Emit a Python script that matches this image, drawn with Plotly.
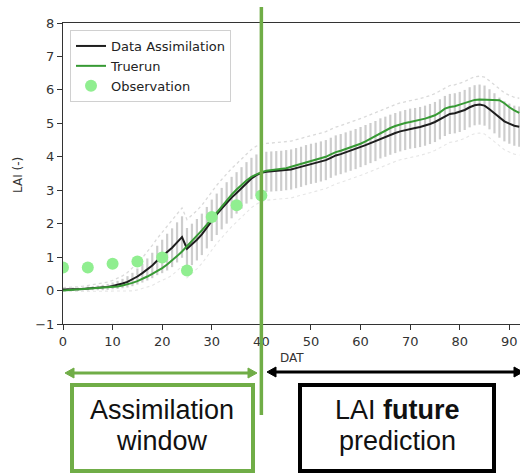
import plotly.graph_objects as go

# ---------------- data ----------------
days = list(range(93))

data_assimilation = [
    0.03, 0.03, 0.04, 0.04, 0.05, 0.06, 0.07, 0.08, 0.09, 0.11,   # 0-9
    0.14, 0.17, 0.21, 0.26, 0.33, 0.42, 0.52, 0.63, 0.75, 0.90,   # 10-19
    1.02, 1.15, 1.28, 1.44, 1.60, 1.25, 1.38, 1.52, 1.68, 1.88,   # 20-29
    2.10, 2.28, 2.45, 2.62, 2.78, 2.92, 3.07, 3.22, 3.35, 3.45,   # 30-39
    3.52, 3.55, 3.56, 3.57, 3.58, 3.60, 3.62, 3.66, 3.70, 3.75,   # 40-49
    3.79, 3.82, 3.86, 3.90, 3.97, 4.04, 4.08, 4.13, 4.18, 4.23,   # 50-59
    4.29, 4.35, 4.41, 4.47, 4.55, 4.60, 4.66, 4.71, 4.76, 4.80,   # 60-69
    4.84, 4.86, 4.89, 4.93, 4.98, 5.04, 5.12, 5.22, 5.28, 5.30,   # 70-79
    5.34, 5.40, 5.48, 5.54, 5.56, 5.53, 5.42, 5.30, 5.17, 5.06,   # 80-89
    4.99, 4.93, 4.90,                                             # 90-92
]

truerun = [
    0.00, 0.01, 0.02, 0.03, 0.03, 0.04, 0.05, 0.06, 0.07, 0.08,
    0.10, 0.12, 0.15, 0.18, 0.23, 0.28, 0.34, 0.42, 0.50, 0.58,
    0.67, 0.78, 0.90, 1.03, 1.17, 1.32, 1.48, 1.64, 1.80, 1.97,
    2.15, 2.33, 2.52, 2.70, 2.87, 3.02, 3.16, 3.29, 3.40, 3.48,
    3.54, 3.58, 3.60, 3.61, 3.63, 3.66, 3.70, 3.74, 3.79, 3.84,
    3.88, 3.91, 3.95, 4.00, 4.07, 4.14, 4.18, 4.23, 4.28, 4.33,
    4.39, 4.46, 4.54, 4.62, 4.72, 4.79, 4.86, 4.92, 4.97, 5.01,
    5.04, 5.07, 5.10, 5.14, 5.19, 5.24, 5.33, 5.44, 5.49, 5.51,
    5.56, 5.60, 5.66, 5.70, 5.71, 5.71, 5.71, 5.71, 5.69, 5.60,
    5.48, 5.39, 5.31,
]

# half-width of the ensemble spread (grey bars) around the assimilation run
ensemble_spread = [
    0.04, 0.04, 0.05, 0.05, 0.05, 0.06, 0.06, 0.07, 0.08, 0.09,
    0.10, 0.12, 0.14, 0.17, 0.20, 0.24, 0.28, 0.33, 0.38, 0.44,
    0.50, 0.55, 0.58, 0.60, 0.62, 0.62, 0.62, 0.62, 0.62, 0.62,
    0.62, 0.62, 0.62, 0.62, 0.62, 0.62, 0.62, 0.62, 0.62, 0.62,
    0.60, 0.60, 0.60, 0.60, 0.60, 0.60, 0.60, 0.60, 0.60, 0.60,
    0.60, 0.60, 0.60, 0.60, 0.60, 0.60, 0.60, 0.60, 0.60, 0.60,
    0.60, 0.60, 0.60, 0.60, 0.60, 0.60, 0.60, 0.60, 0.60, 0.60,
    0.60, 0.60, 0.60, 0.60, 0.60, 0.60, 0.60, 0.60, 0.60, 0.60,
    0.60, 0.60, 0.60, 0.60, 0.60, 0.60, 0.60, 0.60, 0.60, 0.60,
    0.60, 0.60, 0.60,
]

# outer ensemble members (dotted envelope)
ensemble_outer = [
    0.06, 0.06, 0.07, 0.07, 0.08, 0.09, 0.10, 0.11, 0.12, 0.14,
    0.16, 0.19, 0.23, 0.28, 0.34, 0.40, 0.46, 0.53, 0.60, 0.66,
    0.72, 0.78, 0.82, 0.85, 0.87, 0.87, 0.87, 0.87, 0.87, 0.87,
    0.87, 0.87, 0.87, 0.87, 0.87, 0.87, 0.87, 0.87, 0.87, 0.87,
    0.85, 0.85, 0.85, 0.85, 0.85, 0.85, 0.85, 0.85, 0.85, 0.85,
    0.85, 0.85, 0.85, 0.85, 0.85, 0.85, 0.85, 0.85, 0.85, 0.85,
    0.85, 0.85, 0.85, 0.85, 0.85, 0.85, 0.85, 0.85, 0.85, 0.85,
    0.85, 0.85, 0.85, 0.85, 0.85, 0.85, 0.85, 0.85, 0.85, 0.85,
    0.85, 0.85, 0.85, 0.85, 0.85, 0.85, 0.85, 0.85, 0.85, 0.85,
    0.85, 0.85, 0.85,
]

obs_days = [0, 5, 10, 15, 20, 25, 30, 35, 40]
obs_lai = [0.69, 0.69, 0.80, 0.87, 0.99, 0.60, 2.20, 2.55, 2.84]

x_ticks = [0, 10, 20, 30, 40, 50, 60, 70, 80, 90]
y_ticks = [-1, 0, 1, 2, 3, 4, 5, 6, 7, 8]
assim_end = 40
x_max = 92.15

# ---------------- figure ----------------
W, H = 530, 474
L, T, R, B = 63, 23, 10, 150
PW, PH = W - L - R, H - T - B


def px(x):
    return (x - L) / PW


def py(y):
    return (H - B - y) / PH


GREEN = "#70AD47"

fig = go.Figure()

# ensemble bars
bx, by = [], []
for d, m, s in zip(days, data_assimilation, ensemble_spread):
    bx += [d, d, None]
    by += [m - s, m + s, None]
fig.add_trace(go.Scatter(x=bx, y=by, mode="lines", line=dict(color="#cdcdcd", width=2.2),
                         showlegend=False, hoverinfo="skip"))

# dotted envelopes
fig.add_trace(go.Scatter(x=days, y=[m + e for m, e in zip(data_assimilation, ensemble_outer)],
                         mode="lines", line=dict(color="#dadada", width=1.3, dash="dot"),
                         showlegend=False, hoverinfo="skip"))
fig.add_trace(go.Scatter(x=days, y=[m - e for m, e in zip(data_assimilation, ensemble_outer)],
                         mode="lines", line=dict(color="#e6e6e6", width=1.1, dash="dot"),
                         showlegend=False, hoverinfo="skip"))

fig.add_trace(go.Scatter(x=days, y=data_assimilation, mode="lines", name="Data Assimilation",
                         line=dict(color="#1e1e1e", width=2)))
fig.add_trace(go.Scatter(x=days, y=truerun, mode="lines", name="Truerun",
                         line=dict(color="#379a34", width=2)))
fig.add_trace(go.Scatter(x=obs_days, y=obs_lai, mode="markers", name="Observation",
                         marker=dict(color="#90ee90", size=12)))

shapes = []
shapes.append(dict(type="line", xref="x", yref="paper", x0=assim_end, x1=assim_end,
                   y0=py(415), y1=py(7), line=dict(color=GREEN, width=3.5), layer="above"))


def harrow(xa, xb, yy, color):
    out = [dict(type="line", xref="paper", yref="paper", x0=px(xa + 5), x1=px(xb - 5),
                y0=py(yy), y1=py(yy), line=dict(color=color, width=3))]
    hl, hw = 9, 5
    out.append(dict(type="path", xref="paper", yref="paper", fillcolor=color,
                    line=dict(color=color, width=1),
                    path=f"M{px(xa)},{py(yy)} L{px(xa + hl)},{py(yy - hw)} L{px(xa + hl)},{py(yy + hw)} Z"))
    out.append(dict(type="path", xref="paper", yref="paper", fillcolor=color,
                    line=dict(color=color, width=1),
                    path=f"M{px(xb)},{py(yy)} L{px(xb - hl)},{py(yy - hw)} L{px(xb - hl)},{py(yy + hw)} Z"))
    return out


shapes += harrow(65, 257, 373, GREEN)
shapes += harrow(267, 523, 372, "black")

shapes.append(dict(type="rect", xref="paper", yref="paper", x0=px(72), x1=px(253),
                   y0=py(471), y1=py(385), line=dict(color=GREEN, width=4)))
shapes.append(dict(type="rect", xref="paper", yref="paper", x0=px(300), x1=px(494),
                   y0=py(471), y1=py(385), line=dict(color="black", width=4)))

box_font = dict(family="Liberation Sans, Arial, sans-serif", size=27, color="#111")
annotations = [
    dict(text="Assimilation", x=px(162), y=py(410), xref="paper", yref="paper",
         showarrow=False, font=box_font, xanchor="center", yanchor="middle"),
    dict(text="window", x=px(162), y=py(441), xref="paper", yref="paper",
         showarrow=False, font=box_font, xanchor="center", yanchor="middle"),
    dict(text="LAI <b>future</b>", x=px(397), y=py(410), xref="paper", yref="paper",
         showarrow=False, font=box_font, xanchor="center", yanchor="middle"),
    dict(text="prediction", x=px(397), y=py(441), xref="paper", yref="paper",
         showarrow=False, font=box_font, xanchor="center", yanchor="middle"),
    dict(text="DAT", x=px(292), y=py(358), xref="paper", yref="paper", showarrow=False,
         font=dict(family="DejaVu Sans", size=12, color="#333"), xanchor="center", yanchor="middle"),
    dict(text="LAI (-)", x=px(18), y=py(175), xref="paper", yref="paper", showarrow=False,
         textangle=-90, font=dict(family="DejaVu Sans", size=12, color="#333"),
         xanchor="center", yanchor="middle"),
]

fig.update_layout(
    width=W, height=H,
    margin=dict(l=L, r=R, t=T, b=B, pad=0),
    paper_bgcolor="white", plot_bgcolor="white",
    font=dict(family="DejaVu Sans", size=13, color="#333"),
    shapes=shapes, annotations=annotations,
    legend=dict(x=px(70), y=py(30), xanchor="left", yanchor="top",
                bgcolor="rgba(255,255,255,0.9)", bordercolor="#d0d0d0", borderwidth=1,
                font=dict(family="DejaVu Sans", size=13, color="#222"),
                tracegroupgap=0),
    showlegend=True,
)
fig.update_xaxes(range=[0, x_max], tickvals=x_ticks, showgrid=False, zeroline=False,
                 showline=True, linecolor="#333", linewidth=1.2, mirror=True,
                 ticks="outside", ticklen=5, tickwidth=1, tickcolor="#333",
                 ticklabeloverflow="allow", automargin=False,
                 tickfont=dict(size=13, color="#333"))
fig.update_yaxes(range=[-1, 8], tickvals=y_ticks, showgrid=False, zeroline=False,
                 showline=True, linecolor="#333", linewidth=1.2, mirror=False,
                 ticks="outside", ticklen=5, tickwidth=1, tickcolor="#333",
                 automargin=False,
                 tickfont=dict(size=13, color="#333"))

fig.write_html(
    "out.html", config={"displayModeBar": False, "responsive": False},
    post_script=("document.body.style.margin='0';document.body.style.padding='0';"
                 "document.body.style.overflow='hidden';"
                 "document.documentElement.style.overflow='hidden';"
                 "var gd=document.getElementById('{plot_id}');"
                 "Plotly.newPlot(gd, gd.data, gd.layout, {displayModeBar:false});"),
)
